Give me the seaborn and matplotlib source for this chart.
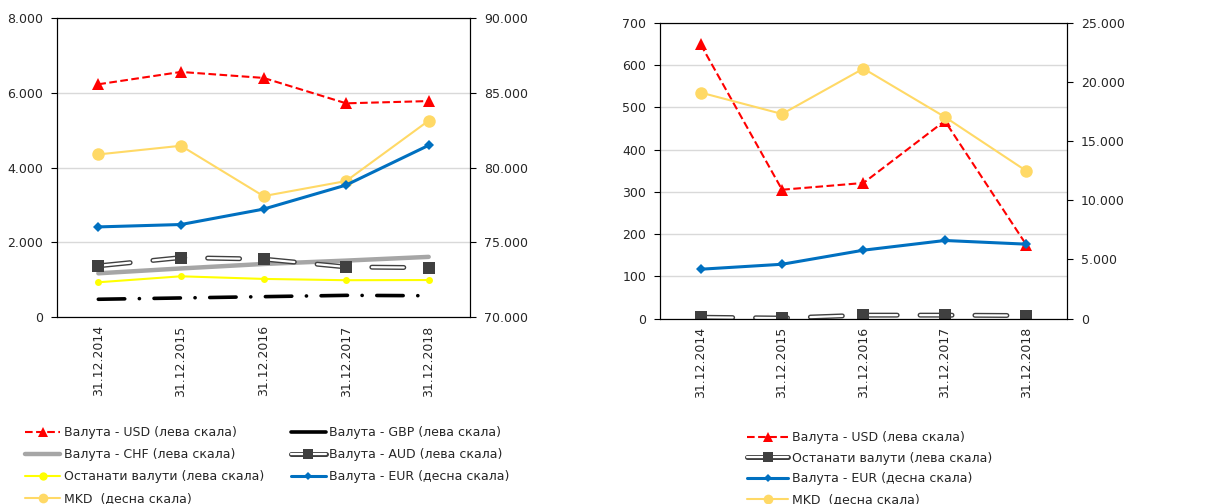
import numpy as np
import matplotlib
matplotlib.use("Agg")
import matplotlib.pyplot as plt
import seaborn as sns
from matplotlib.lines import Line2D
from matplotlib.ticker import FuncFormatter, MultipleLocator

# Data
dates = ["31.12.2014", "31.12.2015", "31.12.2016", "31.12.2017", "31.12.2018"]

# left panel
usd_l = [6230, 6560, 6400, 5720, 5780]
gbp_l = [475, 510, 545, 580, 570]
chf_l = [1170, 1300, 1420, 1510, 1610]
aud_l = [1370, 1590, 1550, 1340, 1320]
other_l = [930, 1090, 1020, 985, 990]
eur_l = [76030, 76190, 77220, 78830, 81490]
mkd_l = [80880, 81460, 78090, 79100, 83140]

# right panel
usd_r = [649, 305, 321, 468, 175]
other_r = [3, 1, 8, 8, 7]
eur_r = [4170, 4590, 5780, 6600, 6290]
mkd_r = [19110, 17300, 21140, 17050, 12490]

sns.set_theme(style="white")
plt.rcParams["font.family"] = ["DejaVu Sans"]
plt.rcParams["font.size"] = 9
plt.rcParams["lines.scale_dashes"] = False

RED = "#ff0000"
BLUE = "#0070c0"
GOLD = "#ffd966"
YELLOW = "#ffff00"
GRAY = "#a6a6a6"
DARK = "#404040"

x = np.arange(len(dates))
fmt = FuncFormatter(lambda v, p: f"{v:,.0f}".replace(",", "."))

fig = plt.figure(figsize=(12.11, 5.04), dpi=100)
axL = fig.add_axes([0.0471, 0.371, 0.341, 0.593])
axR = fig.add_axes([0.545, 0.368, 0.336, 0.5865])


def last(ax):
    return ax.lines[-1]


def double_line(ax, y, dashes):
    sns.lineplot(x=x, y=y, ax=ax, color=DARK, lw=3.6)
    last(ax).set_dashes(dashes)
    last(ax).set_dash_capstyle("round")
    sns.lineplot(x=x, y=y, ax=ax, color="white", lw=1.6)
    last(ax).set_dashes(dashes)
    last(ax).set_dash_capstyle("round")
    sns.lineplot(x=x, y=y, ax=ax, color=DARK, lw=0, marker="s",
                 markersize=8, markeredgewidth=0)


def style_axes(ax, ax2, ylim, ystep, y2lim, y2step):
    ax.set_xlim(-0.5, len(dates) - 0.5)
    ax.set_ylim(*ylim)
    ax.yaxis.set_major_locator(MultipleLocator(ystep))
    ax.yaxis.set_major_formatter(fmt)
    ax2.set_ylim(*y2lim)
    ax2.yaxis.set_major_locator(MultipleLocator(y2step))
    ax2.yaxis.set_major_formatter(fmt)
    ax.grid(axis="y", color="#d9d9d9", lw=1)
    ax.set_axisbelow(True)
    ax.set_xticks(np.arange(-0.5, len(dates), 1))
    ax.set_xticklabels([])
    ax.set_xticks(x, minor=True)
    ax.set_xticklabels(dates, minor=True, rotation=90)
    ax.tick_params(axis="x", which="major", length=4, width=0.8, color="black", direction="out")
    ax.tick_params(axis="x", which="minor", length=0, pad=6, labelsize=9)
    ax.tick_params(axis="y", length=4, width=0.8, color="black", direction="out", pad=6,
                   left=True, labelsize=9)
    ax2.tick_params(axis="y", length=4, width=0.8, color="black", direction="out", pad=6,
                    right=True, labelsize=9)
    for a in (ax, ax2):
        for s in a.spines.values():
            s.set_color("black")
            s.set_linewidth(0.8)
        a.set_xlabel("")
        a.set_ylabel("")
        a.grid(False, axis="x")


# ---- left panel ----
axL2 = axL.twinx()
sns.lineplot(x=x, y=chf_l, ax=axL, color=GRAY, lw=3.2)
double_line(axL, aud_l, (23, 16.5))
sns.lineplot(x=x, y=other_l, ax=axL, color=YELLOW, lw=1.5, marker="o",
             markersize=5, markeredgewidth=0)
sns.lineplot(x=x, y=gbp_l, ax=axL, color="black", lw=2.6)
last(axL).set_dashes((19, 10.5, 0.1, 10.5))
last(axL).set_dash_capstyle("round")
sns.lineplot(x=x, y=usd_l, ax=axL, color=RED, lw=1.5, marker="^",
             markersize=8, markeredgewidth=0)
last(axL).set_dashes((5.5, 2.5))
sns.lineplot(x=x, y=mkd_l, ax=axL2, color=GOLD, lw=1.5, marker="o",
             markersize=9, markeredgewidth=0)
sns.lineplot(x=x, y=eur_l, ax=axL2, color=BLUE, lw=2.2, marker="D",
             markersize=5.5, markeredgewidth=0)
style_axes(axL, axL2, (0, 8000), 2000, (70000, 90000), 5000)

# ---- right panel ----
axR2 = axR.twinx()
double_line(axR, other_r, (23, 16.5))
sns.lineplot(x=x, y=usd_r, ax=axR, color=RED, lw=1.5, marker="^",
             markersize=8, markeredgewidth=0)
last(axR).set_dashes((5.5, 2.5))
sns.lineplot(x=x, y=mkd_r, ax=axR2, color=GOLD, lw=1.5, marker="o",
             markersize=9, markeredgewidth=0)
sns.lineplot(x=x, y=eur_r, ax=axR2, color=BLUE, lw=2.2, marker="D",
             markersize=5.5, markeredgewidth=0)
style_axes(axR, axR2, (0, 700), 100, (0, 25000), 5000)


# ---- legends ----
def h_usd():
    return Line2D([], [], color=RED, lw=1.5, ls=(0, (5.5, 2.5)), marker="^",
                  markersize=7, markeredgewidth=0)


def h_double():
    return (Line2D([], [], color=DARK, lw=3.6, solid_capstyle="round"),
            Line2D([], [], color="white", lw=1.6, solid_capstyle="round"),
            Line2D([], [], color=DARK, lw=0, marker="s", markersize=7, markeredgewidth=0))


def h_eur():
    return Line2D([], [], color=BLUE, lw=2.2, marker="D", markersize=4, markeredgewidth=0)


def h_mkd():
    return Line2D([], [], color=GOLD, lw=1.5, marker="o", markersize=7, markeredgewidth=0)


handles_l = [h_usd(),
             Line2D([], [], color=GRAY, lw=3.2),
             Line2D([], [], color=YELLOW, lw=1.5, marker="o", markersize=6, markeredgewidth=0),
             h_mkd(),
             Line2D([], [], color="black", lw=2.6),
             h_double(),
             h_eur()]
labels_l = ["Валута - USD (лева скала)",
            "Валута - CHF (лева скала)",
            "Останати валути (лева скала)",
            "MKD  (десна скала)",
            "Валута - GBP (лева скала)",
            "Валута - AUD (лева скала)",
            "Валута - EUR (десна скала)"]
fig.legend(handles_l, labels_l, loc="upper left", bbox_to_anchor=(0.021, 0.155),
           ncol=2, frameon=False, fontsize=9, handlelength=2.8, handletextpad=0.25,
           labelspacing=0.72, columnspacing=2.15, borderpad=0, borderaxespad=0)

handles_r = [h_usd(), h_double(), h_eur(), h_mkd()]
labels_r = ["Валута - USD (лева скала)",
            "Останати валути (лева скала)",
            "Валута - EUR (десна скала)",
            "MKD  (десна скала)"]
fig.legend(handles_r, labels_r, loc="upper left", bbox_to_anchor=(0.617, 0.145),
           ncol=1, frameon=False, fontsize=9, handlelength=3.3, handletextpad=0.25,
           labelspacing=0.62, borderpad=0, borderaxespad=0)

fig.savefig("out.png", dpi=100)
